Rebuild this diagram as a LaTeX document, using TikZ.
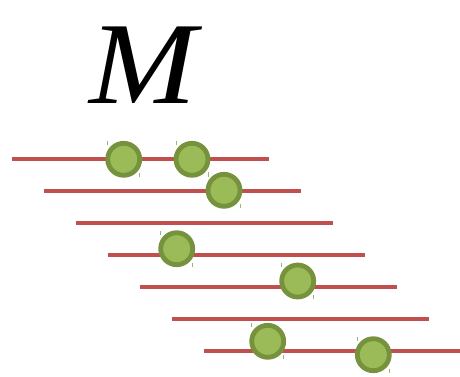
\documentclass[tikz,border=0pt]{standalone}
\usepackage{fontspec}
\setmainfont{Liberation Serif}
\definecolor{linered}{HTML}{C0504D}
\definecolor{dotfill}{HTML}{9BBB59}
\definecolor{dotring}{HTML}{76923C}
\begin{document}
\begin{tikzpicture}[x=1pt,y=-1pt,
  seg/.style={draw=linered,line width=4.6pt},
  dot/.style={circle,fill=dotfill,draw=dotring,line width=4.8pt,minimum size=32pt,inner sep=0pt},
  tick/.style={draw=dotring!70,line width=0.8pt}]
\useasboundingbox (0,0) rectangle (460,376);
\node[font=\fontsize{117}{117}\selectfont\itshape,anchor=base,inner sep=0pt] (M) at (143,103.5) {\scalebox{1.1}[1]{M}};
\foreach \i/\xa/\xb/\y in {1/11.7/268.7/159,2/43.7/300.7/191,3/75.7/332.7/223,4/107.7/364.7/255,5/139.7/396.7/287,6/171.7/428.7/319,7/203.7/460/351}{
  \coordinate (a\i) at (\xa,\y);
  \coordinate (b\i) at (\xb,\y);
  \draw[seg] (a\i) -- (b\i);
}
\foreach \i/\x/\y in {1/123.7/159.3,2/192/159.3,3/224/190.3,4/176.7/248.7,5/297.7/281,6/267.7/341.3,7/373.3/354.7}{
  \node[dot] (c\i) at (\x,\y) {};
  \draw[tick] ([shift={(-16,-14)}]c\i.center) -- ++(0,-4);
  \draw[tick] ([shift={(16,14)}]c\i.center) -- ++(0,4);
}
\end{tikzpicture}
\end{document}
